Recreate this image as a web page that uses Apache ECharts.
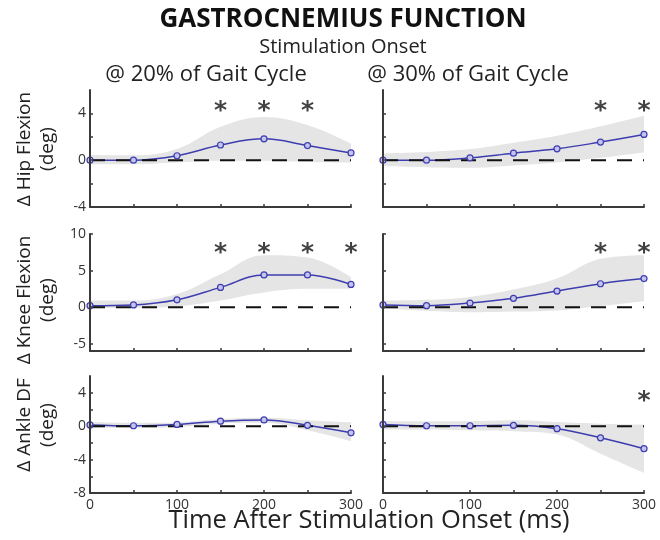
<!DOCTYPE html>
<html>
<head>
<meta charset="utf-8">
<script src="https://cdn.jsdelivr.net/npm/echarts@6/dist/echarts.min.js"></script>
<style>
html, body { margin: 0; padding: 0; background: #fff; }
#main { width: 660px; height: 540px; }
</style>
</head>
<body>
<div id="main"></div>
<script>
// time after stimulation onset (ms)
var times = [0, 50, 100, 150, 200, 250, 300];
var xTicks = [0, 50, 100, 150, 200, 250, 300];
var xLabels = [0, 100, 200, 300];
// dashed reference line at zero change
var zeroLine = [[0, 0], [300, 0]];

// hip flexion change (deg)
var hip20Mean  = [0, 0, 0.38, 1.3, 1.83, 1.25, 0.62];
var hip20Upper = [0.45, 0.42, 0.95, 2.85, 3.7, 3.0, 1.4];
var hip20Lower = [-0.35, -0.35, -0.2, -0.05, -0.05, -0.15, -0.2];
var hip20Sig   = [150, 200, 250];
var hip30Mean  = [0, 0, 0.2, 0.6, 0.97, 1.55, 2.2];
var hip30Upper = [0.58, 0.7, 0.95, 1.5, 2.1, 2.9, 3.8];
var hip30Lower = [-0.5, -0.6, -0.65, -0.45, -0.2, 0.2, 0.66];
var hip30Sig   = [250, 300];
var hipTicks   = [-4, -2, 0, 2, 4];
var hipLabels  = [-4, 0, 4];

// knee flexion change (deg)
var knee20Mean  = [0.2, 0.3, 1.0, 2.7, 4.4, 4.4, 3.1];
var knee20Upper = [0.9, 0.9, 1.8, 4.5, 7.1, 6.8, 4.1];
var knee20Lower = [-0.15, -0.1, 0.1, 0.9, 2.0, 2.5, 2.5];
var knee20Sig   = [150, 200, 250, 300];
var knee30Mean  = [0.3, 0.2, 0.55, 1.2, 2.2, 3.2, 3.9];
var knee30Upper = [0.9, 1.0, 1.4, 2.4, 3.9, 6.6, 7.1];
var knee30Lower = [-0.2, -0.5, -0.7, -0.6, -0.45, 0.15, 0.8];
var knee30Sig   = [250, 300];
var kneeTicks   = [-5, 0, 5, 10];
var kneeLabels  = [-5, 0, 5, 10];

// ankle dorsiflexion change (deg)
var ankle20Mean  = [0.15, 0.05, 0.2, 0.6, 0.75, 0.1, -0.8];
var ankle20Upper = [0.5, 0.4, 0.45, 0.85, 1.0, 0.7, 0.45];
var ankle20Lower = [-0.2, -0.2, -0.1, 0.3, 0.4, -0.5, -1.8];
var ankle20Sig   = [];
var ankle30Mean  = [0.2, 0.05, 0.05, 0.1, -0.3, -1.4, -2.7];
var ankle30Upper = [0.6, 0.6, 0.6, 0.7, 0.5, 0.3, 0.2];
var ankle30Lower = [-0.4, -0.4, -0.5, -0.6, -1.0, -3.3, -5.6];
var ankle30Sig   = [300];
var ankleTicks   = [-8, -6, -4, -2, 0, 2, 4];
var ankleLabels  = [-8, -4, 0, 4];

var rows = [
	{ top: 90,  min: -4, max: 6,  ticks: hipTicks,   labels: hipLabels,   star: 4.6 },
	{ top: 234, min: -6, max: 10, ticks: kneeTicks,  labels: kneeLabels,  star: 8.0 },
	{ top: 376, min: -8, max: 6,  ticks: ankleTicks, labels: ankleLabels, star: 3.6 }
];
var cols = [{ left: 90 }, { left: 383 }];
var panels = [
	[hip20Mean, hip20Upper, hip20Lower, hip20Sig], [hip30Mean, hip30Upper, hip30Lower, hip30Sig],
	[knee20Mean, knee20Upper, knee20Lower, knee20Sig], [knee30Mean, knee30Upper, knee30Lower, knee30Sig],
	[ankle20Mean, ankle20Upper, ankle20Lower, ankle20Sig], [ankle30Mean, ankle30Upper, ankle30Lower, ankle30Sig]
];

var FONT = "'Open Sans', 'Noto Sans', sans-serif";
var AXIS_COLOR = '#3a3a3a';
var LINE_COLOR = '#3d3db0';
var BAND_COLOR = '#e5e5e5';

function pairs(ys) {
	var out = [];
	for (var i = 0; i < times.length; i++) out.push([times[i], ys[i]]);
	return out;
}

var grid = [], xAxis = [], yAxis = [], series = [];
for (var r = 0; r < rows.length; r++) {
	for (var c = 0; c < cols.length; c++) {
		var idx = r * 2 + c;
		var row = rows[r];
		var p = panels[idx];
		grid.push({ left: cols[c].left, top: row.top, width: 261, height: 117 });
		xAxis.push({
			type: 'value', gridIndex: idx, min: 0, max: 300, z: 10,
			axisLine: { onZero: false, lineStyle: { color: AXIS_COLOR, width: 2 } },
			axisTick: { inside: true, length: 3, customValues: xTicks, lineStyle: { color: AXIS_COLOR, width: 1.5 } },
			axisLabel: { show: r == 2, customValues: xLabels, color: '#333', fontSize: 14, fontFamily: FONT, margin: 5 },
			splitLine: { show: false }
		});
		yAxis.push({
			type: 'value', gridIndex: idx, min: row.min, max: row.max, z: 10,
			axisLine: { show: true, onZero: false, lineStyle: { color: AXIS_COLOR, width: 2 } },
			axisTick: { show: true, inside: true, length: 3, customValues: row.ticks, lineStyle: { color: AXIS_COLOR, width: 1.5 } },
			axisLabel: { show: c == 0, customValues: row.labels, color: '#333', fontSize: 14, fontFamily: FONT, margin: 4 },
			splitLine: { show: false }
		});

		// shaded band: grey area under the upper edge, white area under the lower edge
		series.push({
			type: 'line', xAxisIndex: idx, yAxisIndex: idx,
			data: pairs(p[1]), smooth: 0.4, symbol: 'none', silent: true,
			lineStyle: { width: 0, opacity: 0 }, areaStyle: { color: BAND_COLOR, opacity: 1, origin: 'start' }, z: 1
		});
		series.push({
			type: 'line', xAxisIndex: idx, yAxisIndex: idx,
			data: pairs(p[2]), smooth: 0.4, symbol: 'none', silent: true,
			lineStyle: { width: 0, opacity: 0 }, areaStyle: { color: '#fff', opacity: 1, origin: 'start' }, z: 1
		});
		// mean response line
		series.push({
			type: 'line', xAxisIndex: idx, yAxisIndex: idx,
			data: pairs(p[0]), smooth: 0.4, symbol: 'none',
			lineStyle: { color: LINE_COLOR, width: 1.5 },
			z: 3
		});
		// zero reference, drawn over the mean line
		series.push({
			type: 'line', xAxisIndex: idx, yAxisIndex: idx,
			data: zeroLine, symbol: 'none', silent: true,
			lineStyle: { color: '#111', width: 2, type: [15, 11] }, z: 4
		});
		// mean response markers
		series.push({
			type: 'scatter', xAxisIndex: idx, yAxisIndex: idx,
			data: pairs(p[0]), symbol: 'circle', symbolSize: 6,
			itemStyle: { color: '#c4c4ec', borderColor: LINE_COLOR, borderWidth: 1.2, opacity: 1 },
			z: 5
		});
		// significance stars
		var stars = [];
		for (var s = 0; s < p[3].length; s++) stars.push([p[3][s], row.star]);
		series.push({
			type: 'scatter', xAxisIndex: idx, yAxisIndex: idx,
			data: stars, symbolSize: 2, itemStyle: { color: 'rgba(0,0,0,0)' },
			label: { show: true, position: 'inside', formatter: '*', fontSize: 25, fontWeight: 'bold', color: '#111', fontFamily: 'DejaVu Sans', offset: [0, 5] },
			z: 6
		});
	}
}

var rowNames = [['Δ Hip Flexion', 149], ['Δ Knee Flexion', 300], ['Δ Ankle DF', 425]];
var graphic = [
	{ type: 'text', x: 343, y: 20, style: { text: 'GASTROCNEMIUS FUNCTION', font: 'bold 26px ' + FONT, fill: '#111', textAlign: 'center', textVerticalAlign: 'middle' } },
	{ type: 'text', x: 343, y: 47, style: { text: 'Stimulation Onset', font: '20px ' + FONT, fill: '#222', textAlign: 'center', textVerticalAlign: 'middle' } },
	{ type: 'text', x: 206, y: 75, style: { text: '@ 20% of Gait Cycle', font: '22px ' + FONT, fill: '#222', textAlign: 'center', textVerticalAlign: 'middle' } },
	{ type: 'text', x: 468, y: 75, style: { text: '@ 30% of Gait Cycle', font: '22px ' + FONT, fill: '#222', textAlign: 'center', textVerticalAlign: 'middle' } },
	{ type: 'text', x: 369, y: 521, style: { text: 'Time After Stimulation Onset (ms)', font: '25.5px ' + FONT, fill: '#222', textAlign: 'center', textVerticalAlign: 'middle' } }
];
for (var n = 0; n < rowNames.length; n++) {
	graphic.push({ type: 'text', x: 25, y: rowNames[n][1], rotation: Math.PI / 2, style: { text: rowNames[n][0], font: '19px ' + FONT, fill: '#222', textAlign: 'center', textVerticalAlign: 'middle' } });
	graphic.push({ type: 'text', x: 48, y: rowNames[n][1], rotation: Math.PI / 2, style: { text: '(deg)', font: '19px ' + FONT, fill: '#222', textAlign: 'center', textVerticalAlign: 'middle' } });
}

var chart = echarts.init(document.getElementById('main'));
chart.setOption({
	animation: false,
	backgroundColor: '#fff',
	grid: grid,
	xAxis: xAxis,
	yAxis: yAxis,
	series: series,
	graphic: graphic
});
</script>
</body>
</html>
